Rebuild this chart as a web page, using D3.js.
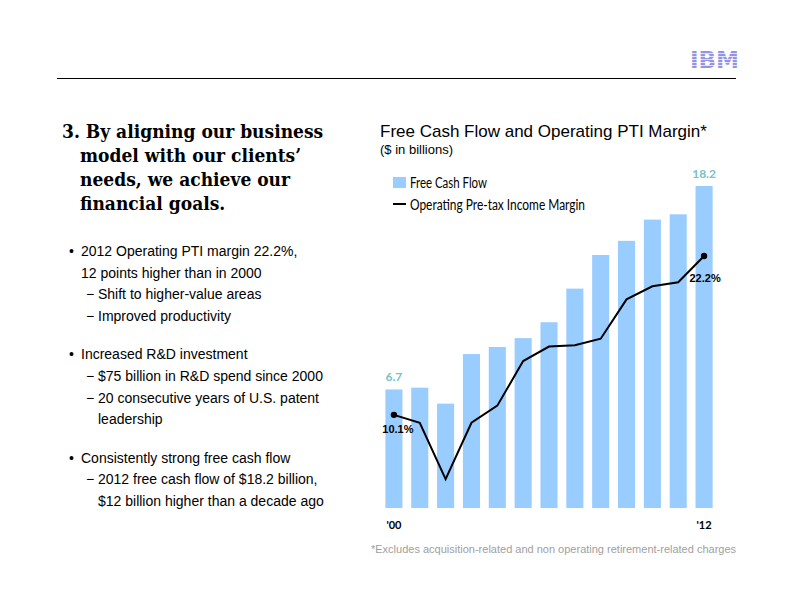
<!DOCTYPE html>
<html><head><meta charset="utf-8">
<script src="https://cdn.jsdelivr.net/npm/d3@7"></script>
<style>body{margin:0;background:#fff}svg{display:block}</style>
</head><body>
<script>
const years = ["2000","2001","2002","2003","2004","2005","2006","2007","2008","2009","2010","2011","2012"];
const yearLabels = {"2000":"'00","2012":"'12"};
const freeCashFlow = [6.7,6.8,5.9,8.7,9.1,9.6,10.5,12.4,14.3,15.1,16.3,16.6,18.2];
const ptiMargin = [10.1,9.5,5.2,9.5,10.8,14.2,15.3,15.4,15.9,18.9,19.9,20.2,22.2];
const barLabels = [{i:0,text:"6.7"},{i:12,text:"18.2"}];
const lineLabels = [{i:0,text:"10.1%"},{i:12,text:"22.2%"}];
const legendItems = [{name:"Free Cash Flow",type:"bar",len:77},{name:"Operating Pre-tax Income Margin",type:"line",len:175}];
const headingLines = ["3. By aligning our business","model with our clients\u2019","needs, we achieve our","financial goals."];
const bullets = [
 {lvl:0,mark:"\u2022",text:"2012 Operating PTI margin 22.2%,"},
 {lvl:0,mark:"",text:"12 points higher than in 2000"},
 {lvl:1,mark:"\u2212",text:"Shift to higher-value areas"},
 {lvl:1,mark:"\u2212",text:"Improved productivity"},
 {gap:true},
 {lvl:0,mark:"\u2022",text:"Increased R&D investment"},
 {lvl:1,mark:"\u2212",text:"$75 billion in R&D spend since 2000"},
 {lvl:1,mark:"\u2212",text:"20 consecutive years of U.S. patent"},
 {lvl:1,mark:"",text:"leadership"},
 {gap:true},
 {lvl:0,mark:"\u2022",text:"Consistently strong free cash flow"},
 {lvl:1,mark:"\u2212",text:"2012 free cash flow of $18.2 billion,"},
 {lvl:1,mark:"",text:"$12 billion higher than a decade ago"}
];

const W=792,H=612;
const svg=d3.select("body").append("svg").attr("width",W).attr("height",H);
const condensed="Lato,'Liberation Sans',Arial,sans-serif";

// header rule & logo
svg.append("line").attr("x1",57).attr("x2",736).attr("y1",78.5).attr("y2",78.5).attr("stroke","#000").attr("stroke-width",1);
const defs=svg.append("defs");
const pat=defs.append("pattern").attr("id","stripes").attr("patternUnits","userSpaceOnUse").attr("width",4).attr("height",3);
pat.append("rect").attr("width",4).attr("height",2).attr("fill","#9494e2");
pat.append("rect").attr("y",2).attr("width",4).attr("height",1).attr("fill","#e2e2f8");
svg.append("text").attr("x",690).attr("y",68).attr("textLength",49).attr("lengthAdjust","spacingAndGlyphs")
 .attr("font-family","DejaVu Sans").attr("font-weight","bold").attr("font-size",23).attr("fill","url(#stripes)").text("IBM");

// heading
const hd=svg.append("g").attr("font-family","'DejaVu Serif Condensed','DejaVu Serif',serif").attr("font-weight","bold").attr("font-size",19).attr("fill","#000").style("font-stretch","condensed");
headingLines.forEach((t,i)=>{
  hd.append("text").attr("x",i===0?62:80).attr("y",138+i*24).text(t);
});

// bullets
const bl=svg.append("g").attr("font-family","'Liberation Sans',Arial,sans-serif").attr("font-size",14).attr("fill","#000");
let by=256;
bullets.forEach(b=>{
  if(b.gap){by+=16.5;return;}
  if(b.lvl===0){
    if(b.mark) bl.append("text").attr("x",69).attr("y",by).text(b.mark);
    bl.append("text").attr("x",81).attr("y",by).text(b.text);
  } else {
    if(b.mark) bl.append("text").attr("x",86).attr("y",by).text(b.mark);
    bl.append("text").attr("x",98).attr("y",by).text(b.text);
  }
  by+=21.7;
});

// chart title
svg.append("text").attr("x",380).attr("y",137).attr("font-family","'Liberation Sans',Arial,sans-serif").attr("font-size",17).text("Free Cash Flow and Operating PTI Margin*");
svg.append("text").attr("x",380).attr("y",154).attr("font-family","'Liberation Sans',Arial,sans-serif").attr("font-size",13).text("($ in billions)");

// scales
const x=d3.scaleBand().domain(years).range([381,717]).paddingInner(0.34).paddingOuter(0.17);
const yBar=d3.scaleLinear().domain([0,18.2]).range([508,186]);
const yLine=d3.scaleLinear().domain([3,27.54]).range([508,186]);

// bars
svg.append("g").selectAll("rect").data(freeCashFlow).join("rect")
 .attr("x",(d,i)=>x(years[i])).attr("width",x.bandwidth())
 .attr("y",d=>yBar(d)).attr("height",d=>yBar(0)-yBar(d)).attr("fill","#99ccff");

// bar labels
svg.append("g").selectAll("text").data(barLabels).join("text")
 .attr("x",d=>x(years[d.i])+x.bandwidth()/2).attr("y",d=>yBar(freeCashFlow[d.i])-8)
 .attr("text-anchor","middle").attr("font-family",condensed)
 .attr("font-weight","bold").attr("font-size",12).attr("fill","#74c3c8").text(d=>d.text);

// line
const line=d3.line().x((d,i)=>x(years[i])+x.bandwidth()/2).y(d=>yLine(d));
svg.append("path").datum(ptiMargin).attr("d",line).attr("fill","none").attr("stroke","#000").attr("stroke-width",2);
svg.append("g").selectAll("circle").data(lineLabels).join("circle")
 .attr("cx",d=>x(years[d.i])+x.bandwidth()/2).attr("cy",d=>yLine(ptiMargin[d.i])).attr("r",3.2).attr("fill","#000");
svg.append("g").selectAll("text").data(lineLabels).join("text")
 .attr("x",d=>x(years[d.i])+x.bandwidth()/2+(d.i===0?4:1)).attr("y",d=>yLine(ptiMargin[d.i])+(d.i===0?18:26))
 .attr("text-anchor","middle").attr("font-family","'Liberation Sans',Arial,sans-serif")
 .attr("font-weight","bold").attr("font-size",11).attr("fill","#000").text(d=>d.text);

// x labels
const xAxis=d3.axisBottom(x).tickSize(0).tickFormat(d=>yearLabels[d]||"");
const xg=svg.append("g").attr("transform","translate(0,518)").call(xAxis);
xg.select(".domain").remove();
xg.selectAll("text").attr("font-family",condensed).attr("font-weight","bold").attr("font-size",11).attr("fill","#000");

// legend
const lg=svg.append("g").attr("font-family",condensed).attr("font-size",15.5).attr("fill","#000");
legendItems.forEach((it,i)=>{
  const cy=182+i*22;
  if(it.type==="bar") lg.append("rect").attr("x",393).attr("y",cy-5).attr("width",13).attr("height",11).attr("fill","#99ccff");
  else lg.append("line").attr("x1",393).attr("x2",406).attr("y1",cy).attr("y2",cy).attr("stroke","#000").attr("stroke-width",2);
  lg.append("text").attr("x",410).attr("y",cy+5.5).attr("textLength",it.len).attr("lengthAdjust","spacingAndGlyphs").text(it.name);
});

// footnote
svg.append("text").attr("x",371).attr("y",553).attr("font-family","'Liberation Sans',Arial,sans-serif").attr("font-size",11).attr("fill","#a0a0a0")
 .text("*Excludes acquisition-related and non operating retirement-related charges");
</script>
</body></html>
